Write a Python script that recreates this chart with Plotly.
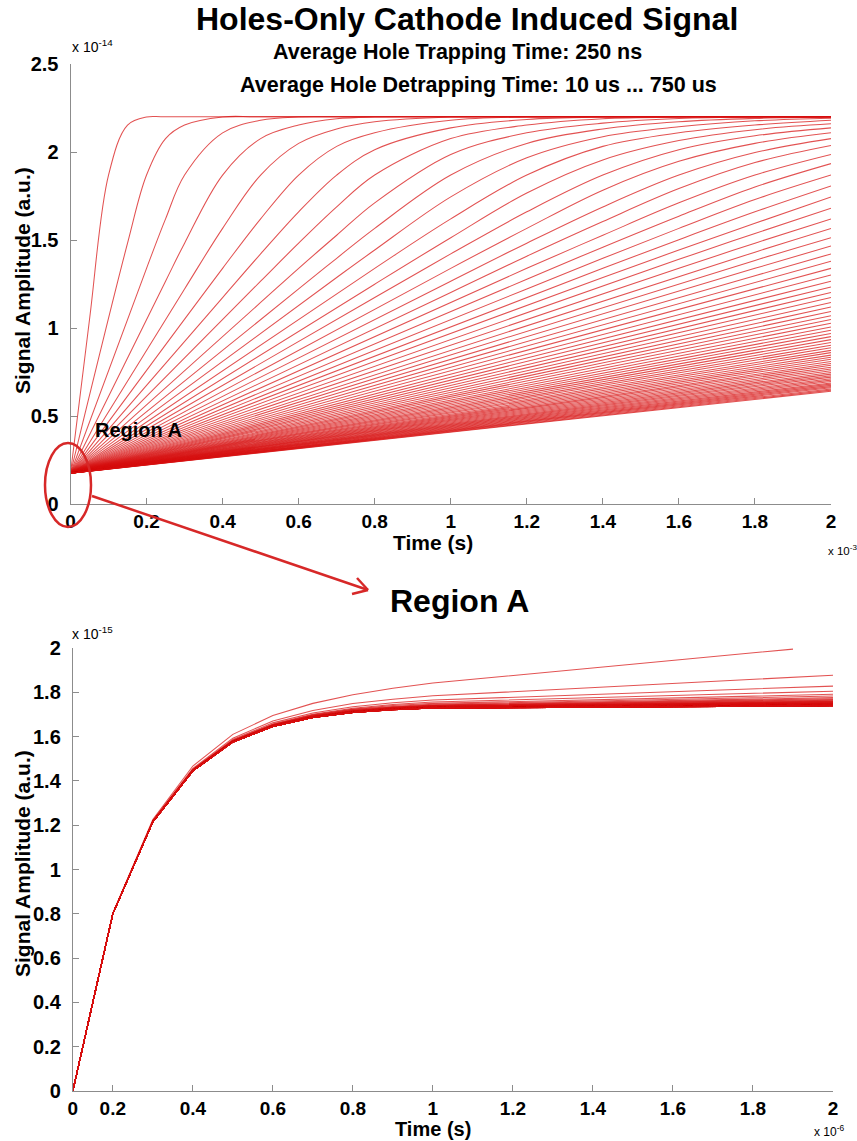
import plotly.graph_objects as go

W, H = 857, 1141
N = None

# ---------------- data ----------------
# average hole detrapping time of every curve (us)
detrap_us = [10, 20, 30, 40, 50, 60, 70, 80, 90, 100, 110, 120, 130, 140, 150,
             160, 170, 180, 190, 200, 210, 220, 230, 240, 250, 260, 270, 280, 290, 300,
             310, 320, 330, 340, 350, 360, 370, 380, 390, 400, 410, 420, 430, 440, 450,
             460, 470, 480, 490, 500, 510, 520, 530, 540, 550, 560, 570, 580, 590, 600,
             610, 620, 630, 640, 650, 660, 670, 680, 690, 700, 710, 720, 730, 740, 750]

# full-range signal: time (ms) and amplitude (x 1e-14)
t_ms = [0, 0.05, 0.1, 0.15, 0.2, 0.25, 0.3, 0.4, 0.5, 0.6, 0.7, 0.8, 1.0, 1.2, 1.4, 1.6, 1.8, 2.0]

# curves 10 us ... 280 us (bend inside the window); None = not sampled
signal_fast = [
    [0.175, 1.048, 1.869, 2.153, 2.199, 2.2, N, N, N, N, N, N, N, N, N, N, N, 2.2],
    [0.175, N, N, 1.482, 1.869, 2.076, 2.153, 2.199, 2.2, N, N, N, N, N, N, N, N, 2.2],
    [0.175, N, N, N, 1.339, 1.620, 1.869, 2.109, 2.180, 2.199, 2.2, N, N, N, N, N, N, 2.2],
    [0.175, N, N, N, N, 1.266, 1.482, 1.869, 2.076, 2.153, 2.189, 2.199, 2.2, N, N, N, N, 2.2],
    [0.175, N, N, N, N, N, 1.222, 1.566, 1.869, 2.049, 2.131, 2.172, 2.199, 2.2, N, N, N, 2.2],
    [0.175, N, N, N, N, N, N, 1.339, 1.620, 1.869, 2.032, 2.109, 2.180, 2.199, 2.2, N, N, 2.2],
    [0.175, N, N, N, N, N, N, 1.173, 1.421, 1.660, 1.869, 2.013, 2.137, 2.185, 2.199, 2.2, N, 2.2],
    [0.175, N, N, N, N, N, N, N, 1.266, 1.482, 1.688, 1.869, 2.076, 2.153, 2.189, 2.199, 2.2, 2.2],
    [0.175, N, N, N, N, N, N, N, 1.145, 1.339, 1.527, 1.711, 1.986, 2.109, 2.164, 2.190, 2.199, 2.2],
    [0.175, N, N, N, N, N, N, N, N, 1.222, 1.396, 1.566, 1.869, 2.049, 2.131, 2.172, 2.191, 2.199],
    [0.175, N, N, N, N, N, N, N, N, N, 1.287, 1.443, 1.745, 1.967, 2.087, 2.143, 2.177, 2.192],
    [0.175, N, N, N, N, N, N, N, N, N, N, 1.339, 1.620, 1.869, 2.032, 2.109, 2.153, 2.180],
    [0.175, N, N, N, N, N, N, N, N, N, N, 1.249, 1.513, 1.767, 1.955, 2.065, 2.127, 2.160],
    [0.175, N, N, N, N, N, N, N, N, N, N, 1.173, 1.421, 1.660, 1.869, 2.013, 2.092, 2.137],
    [0.175, N, N, N, N, N, N, N, N, N, N, N, 1.339, 1.566, 1.783, 1.947, 2.049, 2.109],
    [0.175, N, N, N, N, N, N, N, N, N, N, N, 1.266, 1.482, 1.688, 1.869, 1.997, 2.076],
    [0.175, N, N, N, N, N, N, N, N, N, N, N, 1.202, 1.408, 1.605, 1.792, 1.940, 2.037],
    [0.175, N, N, N, N, N, N, N, N, N, N, N, N, 1.339, 1.527, 1.711, 1.869, 1.986],
    [0.175, N, N, N, N, N, N, N, N, N, N, N, N, 1.277, 1.459, 1.635, 1.801, 1.934],
    [0.175, N, N, N, N, N, N, N, N, N, N, N, N, 1.222, 1.396, 1.566, 1.730, 1.869],
    [0.175, N, N, N, N, N, N, N, N, N, N, N, N, N, 1.339, 1.502, 1.660, 1.807],
    [0.175, N, N, N, N, N, N, N, N, N, N, N, N, N, 1.287, 1.443, 1.595, 1.745],
    [0.175, N, N, N, N, N, N, N, N, N, N, N, N, N, N, 1.390, 1.537, 1.681],
    [0.175, N, N, N, N, N, N, N, N, N, N, N, N, N, N, 1.339, 1.482, 1.620],
    [0.175, N, N, N, N, N, N, N, N, N, N, N, N, N, N, N, 1.431, 1.566],
    [0.175, N, N, N, N, N, N, N, N, N, N, N, N, N, N, N, 1.384, 1.513],
    [0.175, N, N, N, N, N, N, N, N, N, N, N, N, N, N, N, 1.339, 1.466],
    [0.175, N, N, N, N, N, N, N, N, N, N, N, N, N, N, N, 1.297, 1.421],
]

# curves 290 us ... 750 us: straight rise from the start value to these values at 2 ms
signal_start = 0.175
signal_end_slow = [1.379, 1.339, 1.301, 1.266, 1.233, 1.202, 1.173, 1.145, 1.119, 1.094,
                   1.070, 1.048, 1.027, 1.006, 0.987, 0.969, 0.951, 0.934, 0.918, 0.902,
                   0.888, 0.873, 0.860, 0.846, 0.834, 0.822, 0.810, 0.798, 0.788, 0.777,
                   0.767, 0.757, 0.747, 0.738, 0.729, 0.721, 0.712, 0.704, 0.696, 0.688,
                   0.681, 0.674, 0.667, 0.660, 0.653, 0.647, 0.641]

# Region A: time (us) and amplitude (x 1e-15), one row per detrapping time
t_us = [0.1, 0.2, 0.3, 0.4, 0.5, 0.6, 0.7, 0.8, 0.9, 1.0, 1.9, 2.0]
signal_region_a = [
    [0, 0.803, 1.226, 1.467, 1.610, 1.695, 1.750, 1.789, 1.818, 1.842, 1.995, N],
    [0, 0.802, 1.221, 1.456, 1.593, 1.670, 1.718, 1.749, 1.769, 1.784, N, 1.877],
    [0, 0.801, 1.219, 1.452, 1.587, 1.662, 1.707, 1.735, 1.753, 1.765, N, 1.828],
    [0, 0.801, 1.218, 1.451, 1.584, 1.657, 1.701, 1.728, 1.745, 1.756, N, 1.805],
    [0, 0.801, 1.217, 1.449, 1.582, 1.655, 1.698, 1.724, 1.740, 1.750, N, 1.791],
    [0, 0.801, 1.217, 1.449, 1.581, 1.653, 1.696, 1.722, 1.736, 1.746, N, 1.783],
    [0, 0.800, 1.217, 1.448, 1.580, 1.652, 1.694, 1.720, 1.734, 1.743, N, 1.776],
    [0, 0.800, 1.216, 1.448, 1.579, 1.651, 1.693, 1.718, 1.732, 1.741, N, 1.771],
    [0, 0.800, 1.216, 1.447, 1.579, 1.651, 1.692, 1.717, 1.731, 1.740, N, 1.767],
    [0, 0.800, 1.216, 1.447, 1.579, 1.650, 1.692, 1.716, 1.730, 1.739, N, 1.764],
    [0, 0.800, 1.216, 1.447, 1.578, 1.650, 1.691, 1.715, 1.729, 1.737, N, 1.761],
    [0, 0.800, 1.216, 1.447, 1.578, 1.649, 1.690, 1.715, 1.728, 1.737, N, 1.759],
    [0, 0.800, 1.216, 1.447, 1.578, 1.649, 1.690, 1.714, 1.728, 1.736, N, 1.757],
    [0, 0.800, 1.216, 1.447, 1.578, 1.649, 1.690, 1.714, 1.727, 1.735, N, 1.756],
    [0, 0.800, 1.216, 1.446, 1.577, 1.648, 1.689, 1.713, 1.727, 1.735, N, 1.754],
    [0, 0.800, 1.216, 1.446, 1.577, 1.648, 1.689, 1.713, 1.726, 1.734, N, 1.753],
    [0, 0.800, 1.216, 1.446, 1.577, 1.648, 1.689, 1.713, 1.726, 1.734, N, 1.752],
    [0, 0.800, 1.216, 1.446, 1.577, 1.648, 1.689, 1.713, 1.725, 1.733, N, 1.751],
    [0, 0.800, 1.216, 1.446, 1.577, 1.648, 1.688, 1.712, 1.725, 1.733, N, 1.750],
    [0, 0.800, 1.216, 1.446, 1.577, 1.647, 1.688, 1.712, 1.725, 1.733, N, 1.749],
    [0, 0.800, 1.216, 1.446, 1.577, 1.647, 1.688, 1.712, 1.725, 1.733, N, 1.749],
    [0, 0.800, 1.215, 1.446, 1.577, 1.647, 1.688, 1.712, 1.724, 1.732, N, 1.748],
    [0, 0.800, 1.215, 1.446, 1.577, 1.647, 1.688, 1.712, 1.724, 1.732, N, 1.748],
    [0, 0.800, 1.215, 1.446, 1.576, 1.647, 1.688, 1.711, 1.724, 1.732, N, 1.747],
    [0, 0.800, 1.215, 1.446, 1.576, 1.647, 1.688, 1.711, 1.724, 1.732, N, 1.747],
    [0, 0.800, 1.215, 1.446, 1.576, 1.647, 1.687, 1.711, 1.724, 1.731, N, 1.746],
    [0, 0.800, 1.215, 1.446, 1.576, 1.647, 1.687, 1.711, 1.724, 1.731, N, 1.746],
    [0, 0.800, 1.215, 1.446, 1.576, 1.647, 1.687, 1.711, 1.723, 1.731, N, 1.745],
    [0, 0.800, 1.215, 1.446, 1.576, 1.647, 1.687, 1.711, 1.723, 1.731, N, 1.745],
    [0, 0.800, 1.215, 1.446, 1.576, 1.647, 1.687, 1.711, 1.723, 1.731, N, 1.745],
    [0, 0.800, 1.215, 1.446, 1.576, 1.646, 1.687, 1.710, 1.723, 1.731, N, 1.744],
    [0, 0.800, 1.215, 1.446, 1.576, 1.646, 1.687, 1.710, 1.723, 1.731, N, 1.744],
    [0, 0.800, 1.215, 1.446, 1.576, 1.646, 1.687, 1.710, 1.723, 1.731, N, 1.744],
    [0, 0.800, 1.215, 1.446, 1.576, 1.646, 1.687, 1.710, 1.723, 1.730, N, 1.743],
    [0, 0.800, 1.215, 1.446, 1.576, 1.646, 1.687, 1.710, 1.723, 1.730, N, 1.743],
    [0, 0.800, 1.215, 1.446, 1.576, 1.646, 1.687, 1.710, 1.723, 1.730, N, 1.743],
    [0, 0.800, 1.215, 1.446, 1.576, 1.646, 1.687, 1.710, 1.723, 1.730, N, 1.743],
    [0, 0.800, 1.215, 1.446, 1.576, 1.646, 1.687, 1.710, 1.723, 1.730, N, 1.743],
    [0, 0.800, 1.215, 1.445, 1.576, 1.646, 1.687, 1.710, 1.722, 1.730, N, 1.742],
    [0, 0.800, 1.215, 1.445, 1.576, 1.646, 1.687, 1.710, 1.722, 1.730, N, 1.742],
    [0, 0.800, 1.215, 1.445, 1.576, 1.646, 1.687, 1.710, 1.722, 1.730, N, 1.742],
    [0, 0.800, 1.215, 1.445, 1.576, 1.646, 1.687, 1.710, 1.722, 1.730, N, 1.742],
    [0, 0.800, 1.215, 1.445, 1.576, 1.646, 1.687, 1.710, 1.722, 1.730, N, 1.742],
    [0, 0.800, 1.215, 1.445, 1.576, 1.646, 1.687, 1.710, 1.722, 1.730, N, 1.742],
    [0, 0.800, 1.215, 1.445, 1.576, 1.646, 1.686, 1.710, 1.722, 1.729, N, 1.741],
    [0, 0.800, 1.215, 1.445, 1.576, 1.646, 1.686, 1.710, 1.722, 1.729, N, 1.741],
    [0, 0.800, 1.215, 1.445, 1.576, 1.646, 1.686, 1.710, 1.722, 1.729, N, 1.741],
    [0, 0.800, 1.215, 1.445, 1.576, 1.646, 1.686, 1.710, 1.722, 1.729, N, 1.741],
    [0, 0.800, 1.215, 1.445, 1.576, 1.646, 1.686, 1.710, 1.722, 1.729, N, 1.741],
    [0, 0.800, 1.215, 1.445, 1.576, 1.646, 1.686, 1.710, 1.722, 1.729, N, 1.741],
    [0, 0.800, 1.215, 1.445, 1.576, 1.646, 1.686, 1.710, 1.722, 1.729, N, 1.741],
    [0, 0.800, 1.215, 1.445, 1.576, 1.646, 1.686, 1.709, 1.722, 1.729, N, 1.740],
    [0, 0.800, 1.215, 1.445, 1.576, 1.646, 1.686, 1.709, 1.722, 1.729, N, 1.740],
    [0, 0.800, 1.215, 1.445, 1.576, 1.646, 1.686, 1.709, 1.722, 1.729, N, 1.740],
    [0, 0.800, 1.215, 1.445, 1.576, 1.646, 1.686, 1.709, 1.722, 1.729, N, 1.740],
    [0, 0.800, 1.215, 1.445, 1.576, 1.646, 1.686, 1.709, 1.722, 1.729, N, 1.740],
    [0, 0.800, 1.215, 1.445, 1.576, 1.646, 1.686, 1.709, 1.722, 1.729, N, 1.740],
    [0, 0.800, 1.215, 1.445, 1.576, 1.646, 1.686, 1.709, 1.722, 1.729, N, 1.740],
    [0, 0.800, 1.215, 1.445, 1.576, 1.646, 1.686, 1.709, 1.722, 1.729, N, 1.740],
    [0, 0.800, 1.215, 1.445, 1.576, 1.646, 1.686, 1.709, 1.722, 1.729, N, 1.740],
    [0, 0.800, 1.215, 1.445, 1.576, 1.646, 1.686, 1.709, 1.722, 1.729, N, 1.740],
    [0, 0.800, 1.215, 1.445, 1.576, 1.646, 1.686, 1.709, 1.722, 1.729, N, 1.740],
    [0, 0.800, 1.215, 1.445, 1.575, 1.646, 1.686, 1.709, 1.721, 1.729, N, 1.739],
    [0, 0.800, 1.215, 1.445, 1.575, 1.646, 1.686, 1.709, 1.721, 1.729, N, 1.739],
    [0, 0.800, 1.215, 1.445, 1.575, 1.646, 1.686, 1.709, 1.721, 1.729, N, 1.739],
    [0, 0.800, 1.215, 1.445, 1.575, 1.646, 1.686, 1.709, 1.721, 1.729, N, 1.739],
    [0, 0.800, 1.215, 1.445, 1.575, 1.646, 1.686, 1.709, 1.721, 1.729, N, 1.739],
    [0, 0.800, 1.215, 1.445, 1.575, 1.646, 1.686, 1.709, 1.721, 1.729, N, 1.739],
    [0, 0.800, 1.215, 1.445, 1.575, 1.646, 1.686, 1.709, 1.721, 1.729, N, 1.739],
    [0, 0.800, 1.215, 1.445, 1.575, 1.646, 1.686, 1.709, 1.721, 1.729, N, 1.739],
    [0, 0.800, 1.215, 1.445, 1.575, 1.646, 1.686, 1.709, 1.721, 1.729, N, 1.739],
    [0, 0.800, 1.215, 1.445, 1.575, 1.646, 1.686, 1.709, 1.721, 1.729, N, 1.739],
    [0, 0.800, 1.215, 1.445, 1.575, 1.646, 1.686, 1.709, 1.721, 1.729, N, 1.739],
    [0, 0.800, 1.215, 1.445, 1.575, 1.646, 1.686, 1.709, 1.721, 1.729, N, 1.739],
    [0, 0.800, 1.215, 1.445, 1.575, 1.646, 1.686, 1.709, 1.721, 1.729, N, 1.739],
]

# tick labels
top_xticks = [0, 0.2, 0.4, 0.6, 0.8, 1.0, 1.2, 1.4, 1.6, 1.8, 2.0]
top_xlabels = ["0", "0.2", "0.4", "0.6", "0.8", "1", "1.2", "1.4", "1.6", "1.8", "2"]
top_yticks = [0, 0.5, 1.0, 1.5, 2.0, 2.5]
top_ylabels = ["0", "0.5", "1", "1.5", "2", "2.5"]
a_xticks = [0.1, 0.2, 0.4, 0.6, 0.8, 1.0, 1.2, 1.4, 1.6, 1.8, 2.0]
a_xlabels = ["0", "0.2", "0.4", "0.6", "0.8", "1", "1.2", "1.4", "1.6", "1.8", "2"]
a_yticks = [0, 0.2, 0.4, 0.6, 0.8, 1.0, 1.2, 1.4, 1.6, 1.8, 2.0]
a_ylabels = ["0", "0.2", "0.4", "0.6", "0.8", "1", "1.2", "1.4", "1.6", "1.8", "2"]

# ---------------- styling helpers ----------------
FONT = "Liberation Sans, Arial, Helvetica, sans-serif"
LINE_COLOR = "rgba(215,15,15,0.72)"
MARK_RED = "rgb(215,40,40)"
AXIS_GREY = "#8c8c8c"
LINE_W = 1.05


def px(x):
    return x / W


def py(y):
    return 1 - y / H


def pairs(times, values):
    xs = [t for t, v in zip(times, values) if v is not None]
    ys = [v for v in values if v is not None]
    return xs, ys


fig = go.Figure()

# upper panel curves
for row in signal_fast:
    xs, ys = pairs(t_ms, row)
    fig.add_trace(go.Scatter(x=xs, y=ys, mode="lines", xaxis="x", yaxis="y",
                             line=dict(color=LINE_COLOR, width=LINE_W, shape="spline"),
                             hoverinfo="skip", showlegend=False))
for end in signal_end_slow:
    fig.add_trace(go.Scatter(x=[t_ms[0], t_ms[-1]], y=[signal_start, end], mode="lines",
                             xaxis="x", yaxis="y",
                             line=dict(color=LINE_COLOR, width=LINE_W),
                             hoverinfo="skip", showlegend=False))

# Region A curves
for row in signal_region_a:
    xs, ys = pairs(t_us, row)
    fig.add_trace(go.Scatter(x=xs, y=ys, mode="lines", xaxis="x2", yaxis="y2",
                             line=dict(color=LINE_COLOR, width=LINE_W),
                             hoverinfo="skip", showlegend=False))

axis_common = dict(showgrid=False, zeroline=False, showline=True, linecolor=AXIS_GREY,
                   linewidth=1, ticks="inside", ticklen=6, tickcolor=AXIS_GREY,
                   mirror=False, fixedrange=True, automargin=False)
tick_font = dict(family=FONT, size=20, color="black", weight="bold")
tick_font_x = dict(family=FONT, size=19, color="black", weight="bold")

fig.update_layout(
    width=W, height=H,
    margin=dict(l=0, r=0, t=0, b=0),
    paper_bgcolor="white", plot_bgcolor="white",
    xaxis=dict(domain=[px(70.5), px(831)], range=[0, 2], anchor="y",
               tickmode="array", tickvals=top_xticks, ticktext=top_xlabels,
               ticklabelstandoff=0, tickfont=tick_font_x, **axis_common),
    yaxis=dict(domain=[py(504), py(64)], range=[0, 2.5], anchor="x",
               tickmode="array", tickvals=top_yticks, ticktext=top_ylabels,
               ticklabelstandoff=7, tickfont=tick_font, **axis_common),
    xaxis2=dict(domain=[px(72.8), px(833)], range=[0.1, 2.0], anchor="y2",
                tickmode="array", tickvals=a_xticks, ticktext=a_xlabels,
                ticklabelstandoff=0, tickfont=tick_font_x, **axis_common),
    yaxis2=dict(domain=[py(1091), py(648)], range=[0, 2.0], anchor="x2",
                tickmode="array", tickvals=a_yticks, ticktext=a_ylabels,
                ticklabelstandoff=7, tickfont=tick_font, **axis_common),
)


def label(text, x, y, size, xanchor="center", yanchor="middle", angle=0):
    fig.add_annotation(text=text, x=px(x), y=py(y), xref="paper", yref="paper",
                       xanchor=xanchor, yanchor=yanchor, showarrow=False, textangle=angle,
                       font=dict(family=FONT, size=size, color="black"))


label("<b>Holes-Only Cathode Induced Signal</b>", 467, 19, 32)
label("<b>Average Hole Trapping Time: 250 ns</b>", 457, 52, 21.5)
label("<b>Average Hole Detrapping Time: 10 us ... 750 us</b>", 479, 85, 21.5)

label("x 10<sup>-14</sup>", 70, 46, 14, xanchor="left")
label("x 10<sup>-3</sup>", 826, 550, 11.5, xanchor="left")
label("x 10<sup>-15</sup>", 70, 633, 14, xanchor="left")
label("x 10<sup>-6</sup>", 812, 1131, 12, xanchor="left")

label("<b>Time (s)</b>", 433, 542, 21)
label("<b>Time (s)</b>", 433, 1129, 20)
label("<b>Signal Amplitude (a.u.)</b>", 22, 281, 21, angle=-90)
label("<b>Signal Amplitude (a.u.)</b>", 22, 864, 21, angle=-90)

label("<b>Region A</b>", 93, 430, 20, xanchor="left")
label("<b>Region A</b>", 459, 601, 32)

# ellipse around the origin of the upper panel
fig.add_shape(type="circle", xref="paper", yref="paper",
              x0=px(45), x1=px(91), y0=py(527), y1=py(443),
              line=dict(color=MARK_RED, width=2.5))

# arrow from the ellipse to the Region A heading
tip = (368, 590)
fig.add_shape(type="line", xref="paper", yref="paper",
              x0=px(92), y0=py(496), x1=px(tip[0]), y1=py(tip[1]),
              line=dict(color=MARK_RED, width=2.5))
fig.add_shape(type="line", xref="paper", yref="paper",
              x0=px(357), y0=py(578), x1=px(tip[0]), y1=py(tip[1]),
              line=dict(color=MARK_RED, width=2.5))
fig.add_shape(type="line", xref="paper", yref="paper",
              x0=px(352), y0=py(594), x1=px(tip[0]), y1=py(tip[1]),
              line=dict(color=MARK_RED, width=2.5))

fig.write_html("out.html")
